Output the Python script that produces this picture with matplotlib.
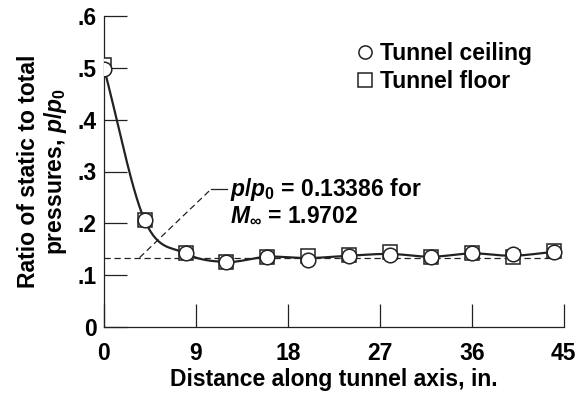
import numpy as np
import matplotlib
matplotlib.use("Agg")
import matplotlib.pyplot as plt

plt.rcParams['font.family'] = ['Liberation Sans', 'DejaVu Sans']
plt.rcParams['font.weight'] = 'bold'
plt.rcParams['axes.labelweight'] = 'bold'
plt.rcParams['mathtext.fontset'] = 'custom'
plt.rcParams['mathtext.rm'] = 'Liberation Sans:bold'
plt.rcParams['mathtext.it'] = 'Liberation Sans:italic:bold'
plt.rcParams['mathtext.bf'] = 'Liberation Sans:bold'

# data
distance = [0, 4, 8, 12, 16, 20, 24, 28, 32, 36, 40, 44]
ceiling = [0.497, 0.206, 0.142, 0.125, 0.135, 0.129, 0.137, 0.138, 0.135, 0.142, 0.140, 0.144]
floor = [0.505, 0.206, 0.142, 0.126, 0.136, 0.137, 0.138, 0.144, 0.136, 0.142, 0.135, 0.146]
p_ratio_theory = 0.13386
x_ticks = [0, 9, 18, 27, 36, 45]
y_ticks = [0, 0.1, 0.2, 0.3, 0.4, 0.5, 0.6]
y_tick_labels = ['0', '.1', '.2', '.3', '.4', '.5', '.6']

FS = 16.5


def fair_curve(x, y, n=30):
    # smooth cubic hermite curve through the points
    x = np.asarray(x, float)
    y = np.asarray(y, float)
    m = np.zeros_like(y)
    m[1:-1] = (y[2:] - y[:-2]) / (x[2:] - x[:-2])
    m[0] = (y[1] - y[0]) / (x[1] - x[0])
    m[-1] = (y[-1] - y[-2]) / (x[-1] - x[-2])
    xs, ys = [], []
    for i in range(len(x) - 1):
        h = x[i + 1] - x[i]
        t = np.linspace(0, 1, n, endpoint=False)
        h00 = 2 * t**3 - 3 * t**2 + 1
        h10 = t**3 - 2 * t**2 + t
        h01 = -2 * t**3 + 3 * t**2
        h11 = t**3 - t**2
        xs.append(x[i] + t * h)
        ys.append(h00 * y[i] + h10 * h * m[i] + h01 * y[i + 1] + h11 * h * m[i + 1])
    xs.append([x[-1]])
    ys.append([y[-1]])
    return np.concatenate(xs), np.concatenate(ys)


fig = plt.figure(figsize=(5.83, 4.0), dpi=100)
ax = fig.add_axes([0.178, 0.1825, 0.789, 0.7775])

mean_vals = (np.array(ceiling) + np.array(floor)) / 2
cx, cy = fair_curve(distance, mean_vals)
ax.plot(cx, cy, color='#222222', lw=1.6, zorder=2)

# theoretical value
ax.plot([0, 44.5], [p_ratio_theory, p_ratio_theory], ls=(0, (5, 3)), color='#222222', lw=0.9, zorder=1)
ax.plot([3.5, 10.5], [p_ratio_theory, 0.266], ls=(0, (5, 3)), color='#222222', lw=0.9)
ax.plot([10.5, 12.1], [0.266, 0.266], color='#222222', lw=0.9)
ax.text(12.3, 0.265, r'$p/p_0$ = 0.13386 for', fontsize=FS, va='center', ha='left')
ax.text(12.3, 0.216, r'$M_\infty$ = 1.9702', fontsize=FS, va='center', ha='left')

ax.plot(distance, floor, ls='none', marker='s', ms=10.5, mfc='white', mec='#222222',
        mew=1.1, zorder=3, label='Tunnel floor')
ax.plot(distance, ceiling, ls='none', marker='o', ms=10.5, mfc='white', mec='#222222',
        mew=1.1, zorder=4, label='Tunnel ceiling')

handles, labels = ax.get_legend_handles_labels()
leg = ax.legend(handles[::-1], labels[::-1], loc='upper left', bbox_to_anchor=(0.533, 0.945),
                frameon=False, fontsize=FS, handlelength=0.6, handletextpad=0.35,
                labelspacing=0.2, borderaxespad=0)
for h in leg.legend_handles:
    h.set_markersize(9.5)

ax.set_xlim(0, 45)
ax.set_ylim(0, 0.6)
ax.set_xticks(x_ticks)
ax.set_yticks(y_ticks)
ax.set_yticklabels(y_tick_labels)
ax.tick_params(direction='in', length=16.5, width=0.9, color='#222222', labelsize=FS)
ax.tick_params(axis='x', pad=11)
ax.tick_params(axis='y', pad=5)
ax.spines['top'].set_visible(False)
ax.spines['right'].set_visible(False)
for s in ['left', 'bottom']:
    ax.spines[s].set_linewidth(0.9)
    ax.spines[s].set_color('#222222')

ax.set_xlabel('Distance along tunnel axis, in.', fontsize=FS, labelpad=2)
ax.set_ylabel('Ratio of static to total\npressures, $p/p_0$', fontsize=FS, labelpad=6, linespacing=1.1)

fig.savefig('out.png', dpi=100)
